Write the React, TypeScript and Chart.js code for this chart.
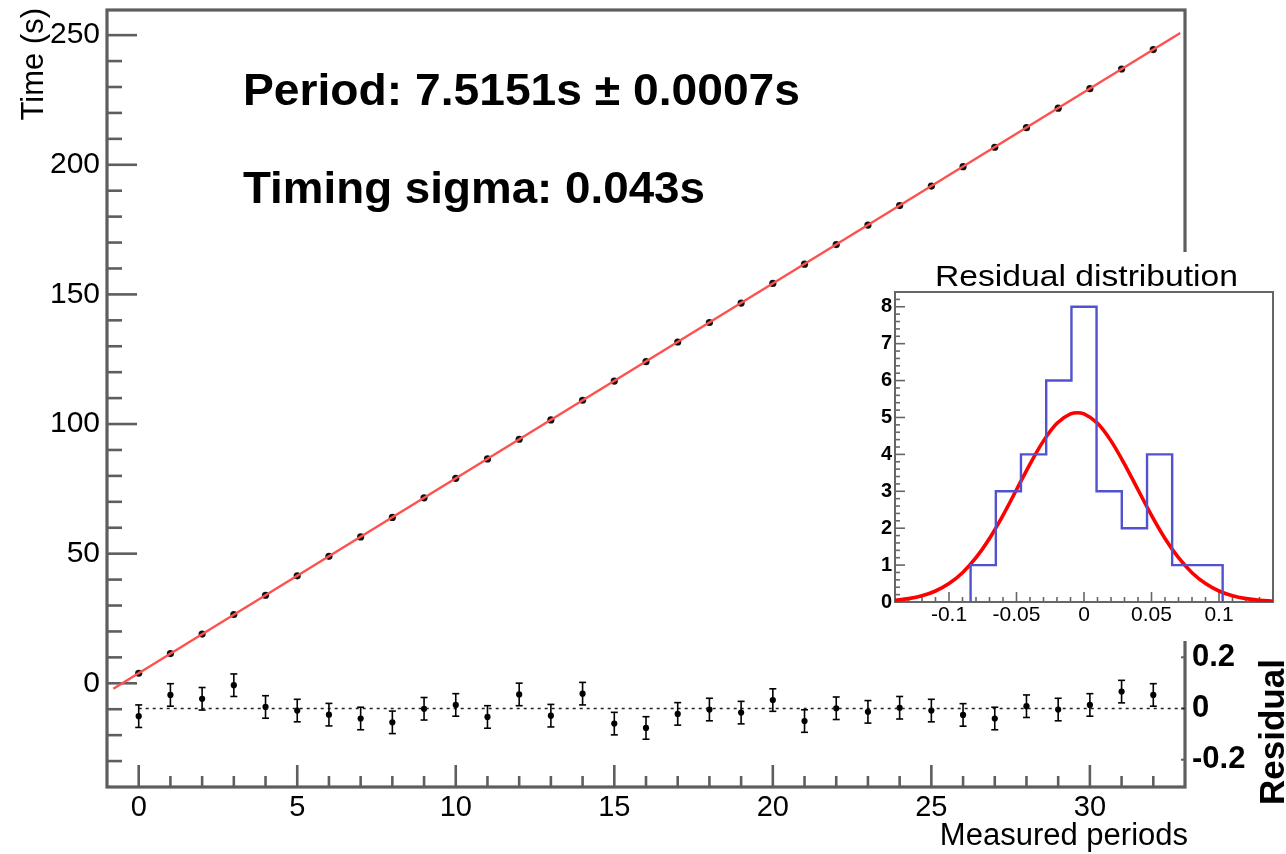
import React, { useEffect, useRef } from "react";
import { Chart, registerables } from "chart.js";

Chart.register(...registerables);

const FONT = "'Liberation Sans', Arial, Helvetica, sans-serif";

// ---------------- main panel data ----------------
const periods = [0, 1, 2, 3, 4, 5, 6, 7, 8, 9, 10, 11, 12, 13, 14, 15, 16, 17, 18, 19, 20, 21, 22, 23, 24, 25, 26, 27, 28, 29, 30, 31, 32];
const times = [3.87, 11.47, 18.97, 26.54, 33.97, 41.47, 48.97, 56.47, 63.97, 71.54, 79.07, 86.53, 94.14, 101.57, 109.17, 116.57, 124.07, 131.64, 139.17, 146.67, 154.24, 161.67, 169.23, 176.73, 184.27, 191.77, 199.27, 206.77, 214.33, 221.84, 229.37, 236.94, 244.44];
const residuals = [-0.030, 0.053, 0.038, 0.091, 0.006, -0.008, -0.024, -0.039, -0.054, -0.001, 0.014, -0.033, 0.055, -0.028, 0.058, -0.059, -0.076, -0.021, -0.004, -0.016, 0.033, -0.049, 0.001, -0.013, 0.003, -0.008, -0.025, -0.039, 0.009, -0.004, 0.014, 0.066, 0.053];
const residualErrors = [0.044, 0.044, 0.044, 0.044, 0.044, 0.044, 0.044, 0.044, 0.044, 0.044, 0.044, 0.044, 0.044, 0.044, 0.044, 0.044, 0.044, 0.044, 0.044, 0.044, 0.044, 0.044, 0.044, 0.044, 0.044, 0.044, 0.044, 0.044, 0.044, 0.044, 0.044, 0.044, 0.044];
const fitLineX = [-0.8, 32.85];
const fitLineY = [-2.1, 250.8];
const zeroLineX = [0, 33];
const xTickValues = [0, 5, 10, 15, 20, 25, 30];
const yTickValues = [0, 50, 100, 150, 200, 250];
const residualTickValues = [-0.2, 0, 0.2];

const periodText = "Period: 7.5151s \u00B1 0.0007s";
const sigmaText = "Timing sigma: 0.043s";
const xTitle = "Measured periods";
const yTitle = "Time (s)";
const residualTitle = "Residual";

// ---------------- inset data ----------------
const histTitle = "Residual distribution";
const histEdges = [-0.14, -0.1213, -0.1027, -0.084, -0.0653, -0.0467, -0.028, -0.0093, 0.0093, 0.028, 0.0467, 0.0653, 0.084, 0.1027, 0.1213, 0.14];
const histCounts = [0, 0, 0, 1, 3, 4, 6, 8, 3, 2, 4, 1, 1, 0, 0];
const gaussX = [-0.14, -0.13, -0.12, -0.11, -0.10, -0.09, -0.08, -0.07, -0.06, -0.05, -0.04, -0.03, -0.02, -0.01, -0.005, 0.0, 0.01, 0.02, 0.03, 0.04, 0.05, 0.06, 0.07, 0.08, 0.09, 0.10, 0.11, 0.12, 0.13, 0.14];
const gaussY = [0.046, 0.091, 0.168, 0.298, 0.499, 0.794, 1.2, 1.723, 2.349, 3.041, 3.739, 4.366, 4.841, 5.097, 5.13, 5.097, 4.841, 4.366, 3.739, 3.041, 2.349, 1.723, 1.2, 0.794, 0.499, 0.298, 0.168, 0.091, 0.046, 0.022];
const histXTickValues = [-0.1, -0.05, 0, 0.05, 0.1];
const histYTickValues = [0, 1, 2, 3, 4, 5, 6, 7, 8];

function drawText(ctx: CanvasRenderingContext2D, text: string, x: number, y: number, font: string, align: CanvasTextAlign, targetWidth?: number, rotate?: number) {
  ctx.save();
  ctx.font = font;
  ctx.fillStyle = "#000";
  ctx.textBaseline = "alphabetic";
  ctx.textAlign = align;
  ctx.translate(x, y);
  if (rotate) ctx.rotate(rotate);
  if (targetWidth) {
    const w = ctx.measureText(text).width;
    ctx.scale(targetWidth / w, 1);
  }
  ctx.fillText(text, 0, 0);
  ctx.restore();
}

function seg(ctx: CanvasRenderingContext2D, x1: number, y1: number, x2: number, y2: number) {
  ctx.beginPath();
  ctx.moveTo(x1, y1);
  ctx.lineTo(x2, y2);
  ctx.stroke();
}

function noPad(s: any) {
  s.paddingTop = 0;
  s.paddingBottom = 0;
  s.paddingLeft = 0;
  s.paddingRight = 0;
}

const mainFramePlugin = {
  id: "mainFrame",
  beforeDatasetsDraw(chart: any) {
    const { ctx, chartArea } = chart;
    const { left, top, right, bottom } = chartArea;
    const xs = chart.scales.x;
    const ys = chart.scales.y;
    const yr = chart.scales.yr;
    ctx.save();
    ctx.strokeStyle = "#5e5e5e";
    ctx.lineWidth = 3.2;
    ctx.lineCap = "butt";
    ctx.strokeRect(left, top, right - left, bottom - top);
    ctx.lineWidth = 2.6;
    for (let v = -30; v <= 250; v += 10) {
      const py = ys.getPixelForValue(v);
      const len = yTickValues.includes(v) ? 30 : 15;
      seg(ctx, left, py, left + len, py);
    }
    for (let v = 0; v <= 32; v += 1) {
      const px = xs.getPixelForValue(v);
      const len = xTickValues.includes(v) ? 22 : 11;
      seg(ctx, px, bottom, px, bottom - len);
    }
    ctx.lineWidth = 2;
    for (const v of residualTickValues) {
      const py = yr.getPixelForValue(v);
      seg(ctx, right, py, right - 4, py);
    }
    ctx.restore();
  },
  afterDatasetsDraw(chart: any) {
    const { ctx } = chart;
    const xs = chart.scales.x;
    const yr = chart.scales.yr;
    ctx.save();
    ctx.strokeStyle = "#000";
    ctx.lineWidth = 1.6;
    residuals.forEach((r, i) => {
      const px = xs.getPixelForValue(periods[i]);
      const y1 = yr.getPixelForValue(r - residualErrors[i]);
      const y2 = yr.getPixelForValue(r + residualErrors[i]);
      seg(ctx, px, y1, px, y2);
      seg(ctx, px - 3.5, y1, px + 3.5, y1);
      seg(ctx, px - 3.5, y2, px + 3.5, y2);
    });
    ctx.restore();
  },
  afterDraw(chart: any) {
    const { ctx } = chart;
    drawText(ctx, periodText, 243, 105, `bold 44px ${FONT}`, "left", 557);
    drawText(ctx, sigmaText, 243, 203, `bold 45px ${FONT}`, "left", 462);
    drawText(ctx, xTitle, 1188, 845, `31px ${FONT}`, "right");
    drawText(ctx, yTitle, 43, 8, `31px ${FONT}`, "right", undefined, -Math.PI / 2);
    drawText(ctx, residualTitle, 1284, 805, `bold 35px ${FONT}`, "left", undefined, -Math.PI / 2);
  },
};

const insetFramePlugin = {
  id: "insetFrame",
  beforeDatasetsDraw(chart: any) {
    const { ctx, chartArea } = chart;
    const { left, top, right, bottom } = chartArea;
    const xs = chart.scales.x;
    const ys = chart.scales.y;
    ctx.save();
    ctx.strokeStyle = "#666";
    ctx.lineWidth = 2;
    ctx.strokeRect(left, top, right - left, bottom - top);
    ctx.lineWidth = 1.6;
    for (let k = 0; k <= 42; k++) {
      const v = k * 0.2;
      const py = ys.getPixelForValue(v);
      const len = k % 5 === 0 ? 10 : 5;
      seg(ctx, left, py, left + len, py);
    }
    for (let k = -13; k <= 14; k++) {
      const v = k * 0.01;
      const px = xs.getPixelForValue(v);
      const len = k % 5 === 0 ? 10 : 5;
      seg(ctx, px, bottom, px, bottom - len);
    }
    ctx.restore();
  },
  afterDraw(chart: any) {
    const { ctx } = chart;
    drawText(ctx, histTitle, 218.5, 34, `29px ${FONT}`, "center", 303);
  },
};

export default function App() {
  const mainRef = useRef<HTMLCanvasElement | null>(null);
  const insetRef = useRef<HTMLCanvasElement | null>(null);

  useEffect(() => {
    Chart.defaults.font.family = FONT;
    Chart.defaults.color = "#000";

    const mainChart = new Chart(mainRef.current as HTMLCanvasElement, {
      type: "scatter",
      data: {
        datasets: [
          {
            type: "line",
            label: "fit",
            data: fitLineX.map((x, i) => ({ x, y: fitLineY[i] })),
            borderColor: "rgba(255,80,80,1)",
            borderWidth: 2.4,
            pointRadius: 0,
            yAxisID: "y",
          },
          {
            type: "scatter",
            label: "time",
            data: periods.map((p, i) => ({ x: p, y: times[i] })),
            pointRadius: 3.6,
            backgroundColor: "#111",
            borderWidth: 0,
            yAxisID: "y",
          },
          {
            type: "line",
            label: "zero",
            data: zeroLineX.map((x) => ({ x, y: 0 })),
            borderColor: "#222",
            borderWidth: 1.4,
            borderDash: [3, 4],
            pointRadius: 0,
            yAxisID: "yr",
          },
          {
            type: "scatter",
            label: "residual",
            data: periods.map((p, i) => ({ x: p, y: residuals[i] })),
            pointRadius: 3.1,
            backgroundColor: "#000",
            borderWidth: 0,
            yAxisID: "yr",
          },
        ] as any,
      },
      options: {
        animation: false,
        responsive: false,
        devicePixelRatio: 1,
        layout: { padding: { top: 10, left: 0, right: 0, bottom: 0 } },
        plugins: { legend: { display: false }, tooltip: { enabled: false } },
        scales: {
          x: {
            type: "linear",
            position: "bottom",
            min: -1,
            max: 33,
            afterBuildTicks: (s: any) => { s.ticks = xTickValues.map((v) => ({ value: v })); },
            afterFit: (s: any) => { s.height = 67; noPad(s); },
            grid: { display: false, drawTicks: false },
            border: { display: false },
            ticks: { padding: 4, font: { size: 29, family: FONT }, color: "#000", maxRotation: 0, autoSkip: false, callback: (v: any) => String(v) },
          },
          y: {
            type: "linear",
            position: "left",
            min: -40,
            max: 259.7,
            afterBuildTicks: (s: any) => { s.ticks = yTickValues.map((v) => ({ value: v })); },
            afterFit: (s: any) => { s.width = 107; noPad(s); },
            grid: { display: false, drawTicks: false },
            border: { display: false },
            ticks: { padding: 7, font: { size: 30, family: FONT }, color: "#000", autoSkip: false, callback: (v: any) => String(v) },
          },
          yr: {
            type: "linear",
            position: "right",
            min: -0.3066,
            max: 2.7285,
            afterBuildTicks: (s: any) => { s.ticks = residualTickValues.map((v) => ({ value: v })); },
            afterFit: (s: any) => { s.width = 101; noPad(s); },
            grid: { display: false, drawTicks: false },
            border: { display: false },
            ticks: { padding: 7, font: { size: 31, family: FONT, weight: "bold" }, color: "#000", autoSkip: false, callback: (v: any) => String(v) },
          },
        },
      } as any,
      plugins: [mainFramePlugin],
    });

    const histPoints: { x: number; y: number }[] = [];
    const first = histCounts.findIndex((c) => c > 0);
    let last = histCounts.length - 1;
    while (last > 0 && histCounts[last] === 0) last--;
    histPoints.push({ x: histEdges[first], y: 0 });
    for (let i = first; i <= last; i++) histPoints.push({ x: histEdges[i], y: histCounts[i] });
    histPoints.push({ x: histEdges[last + 1], y: histCounts[last] });
    histPoints.push({ x: histEdges[last + 1], y: 0 });

    const insetChart = new Chart(insetRef.current as HTMLCanvasElement, {
      type: "line",
      data: {
        datasets: [
          {
            label: "hist",
            data: histPoints,
            stepped: "before",
            borderColor: "#5252d0",
            borderWidth: 2.4,
            pointRadius: 0,
            fill: false,
          },
          {
            label: "gauss",
            data: gaussX.map((x, i) => ({ x, y: gaussY[i] })),
            borderColor: "#ff0000",
            borderWidth: 3.6,
            pointRadius: 0,
            cubicInterpolationMode: "monotone",
            fill: false,
          },
        ] as any,
      },
      options: {
        animation: false,
        responsive: false,
        devicePixelRatio: 1,
        layout: { padding: { top: 40, left: 0, right: 13, bottom: 0 } },
        plugins: { legend: { display: false }, tooltip: { enabled: false } },
        scales: {
          x: {
            type: "linear",
            min: -0.14,
            max: 0.14,
            afterBuildTicks: (s: any) => { s.ticks = histXTickValues.map((v) => ({ value: v })); },
            afterFit: (s: any) => { s.height = 39; noPad(s); },
            grid: { display: false, drawTicks: false },
            border: { display: false },
            ticks: { padding: 1, font: { size: 21, family: FONT }, color: "#000", maxRotation: 0, autoSkip: false, callback: (v: any) => String(v) },
          },
          y: {
            type: "linear",
            min: 0,
            max: 8.4,
            afterBuildTicks: (s: any) => { s.ticks = histYTickValues.map((v) => ({ value: v })); },
            afterFit: (s: any) => { s.width = 27; noPad(s); },
            grid: { display: false, drawTicks: false },
            border: { display: false },
            ticks: { padding: 3, font: { size: 20, family: FONT, weight: "bold" }, color: "#000", autoSkip: false, callback: (v: any) => String(v) },
          },
        },
      } as any,
      plugins: [insetFramePlugin],
    });

    return () => {
      mainChart.destroy();
      insetChart.destroy();
    };
  }, []);

  return (
    <div style={{ position: "fixed", left: 0, top: 0, width: 1286, height: 854, background: "#fff", overflow: "hidden" }}>
      <canvas ref={mainRef} width={1286} height={854} style={{ position: "absolute", left: 0, top: 0, width: 1286, height: 854 }} />
      <canvas ref={insetRef} width={418} height={389} style={{ position: "absolute", left: 868, top: 252, width: 418, height: 389, background: "#fff" }} />
    </div>
  );
}
